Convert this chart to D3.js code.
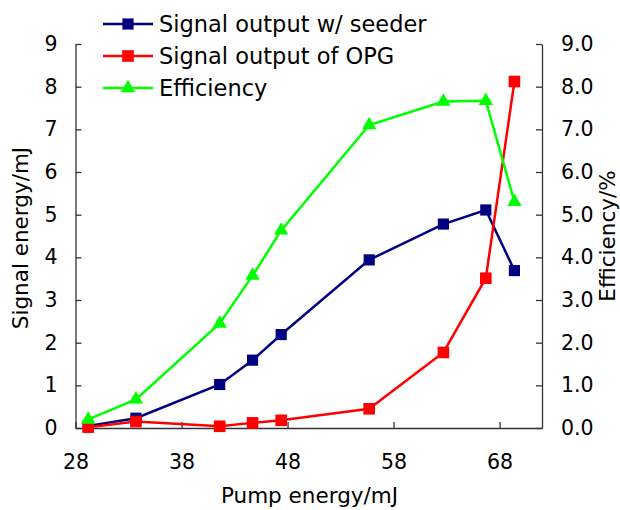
<!DOCTYPE html>
<html><head><meta charset="utf-8">
<script src="https://cdn.jsdelivr.net/npm/d3@7"></script>
<style>body{margin:0;background:#fff}svg{display:block}text{font-family:"DejaVu Sans",Verdana,sans-serif;fill:#000}</style>
</head><body>
<script>
const pump = [29.2, 33.7, 41.6, 44.7, 47.4, 55.7, 62.7, 66.7, 69.4];
const seeder = [0.05, 0.23, 1.02, 1.59, 2.19, 3.94, 4.78, 5.11, 3.69];
const opg = [0.02, 0.15, 0.04, 0.12, 0.18, 0.45, 1.77, 3.51, 8.12];
const efficiency = [0.20, 0.67, 2.45, 3.57, 4.63, 7.10, 7.65, 7.67, 5.30];
const xTicks = [28, 38, 48, 58, 68];
const yLeftTicks = [0,1,2,3,4,5,6,7,8,9];
const yRightTicks = [0,1,2,3,4,5,6,7,8,9];
const seriesNames = ["Signal output w/ seeder", "Signal output of OPG", "Efficiency"];

const W = 620, H = 510;
const L = 75.5, R = 542, T = 44, B = 428;
const svg = d3.select("body").append("svg").attr("width", W).attr("height", H);
const x = d3.scaleLinear().domain([28, 72]).range([L, R]);
const yL = d3.scaleLinear().domain([0, 9]).range([B, T]);
const yR = d3.scaleLinear().domain([0, 9]).range([B, T]);
const FS = 20.5;
const axisColor = "#333";

// axes
const gx = svg.append("g").attr("transform", `translate(0,${B})`)
  .call(d3.axisBottom(x).tickValues(xTicks).tickSizeInner(-6).tickSizeOuter(0).tickPadding(26.5));
const gl = svg.append("g").attr("transform", `translate(${L},0)`)
  .call(d3.axisLeft(yL).tickValues(yLeftTicks).tickSizeInner(-6).tickSizeOuter(0).tickPadding(18).tickFormat(d3.format("d")));
const gr = svg.append("g").attr("transform", `translate(${R},0)`)
  .call(d3.axisRight(yR).tickValues(yRightTicks).tickSizeInner(-6).tickSizeOuter(0).tickPadding(19).tickFormat(d3.format(".1f")));
[gx, gl, gr].forEach(g => {
  g.selectAll("path,line").attr("stroke", axisColor).attr("stroke-width", 1.3);
  g.selectAll("text").attr("font-size", FS).attr("font-family", '"DejaVu Sans",Verdana,sans-serif').attr("fill", "#000");
});
gx.selectAll("text").attr("dy", "0.71em");

// titles
svg.append("text").attr("x", 309.5).attr("y", 503).attr("text-anchor", "middle")
  .attr("font-size", 21.5).text("Pump energy/mJ");
svg.append("text").attr("transform", "translate(28,238) rotate(-90)").attr("text-anchor", "middle")
  .attr("font-size", 21.5).text("Signal energy/mJ");
svg.append("text").attr("transform", "translate(615,236) rotate(-90)").attr("text-anchor", "middle")
  .attr("font-size", 21.5).text("Efficiency/%");

const series = [
  {name: seriesNames[0], vals: seeder, y: yL, color: "#000080", sym: d3.symbolSquare, size: 125},
  {name: seriesNames[1], vals: opg, y: yL, color: "#ff0000", sym: d3.symbolSquare, size: 135},
  {name: seriesNames[2], vals: efficiency, y: yR, color: "#00ff00", sym: d3.symbolTriangle, size: 90},
];

series.forEach(s => {
  const line = d3.line().x((d, i) => x(pump[i])).y(d => s.y(d));
  svg.append("path").datum(s.vals).attr("d", line).attr("fill", "none")
    .attr("stroke", s.color).attr("stroke-width", 2.5);
});
series.forEach(s => {
  svg.append("g").selectAll("path").data(s.vals).join("path")
    .attr("d", d3.symbol().type(s.sym).size(s.size))
    .attr("transform", (d, i) => `translate(${x(pump[i])},${s.y(d)})`)
    .attr("fill", s.color);
});

// legend
const lg = svg.append("g");
series.forEach((s, i) => {
  const yy = 24 + i * 32;
  lg.append("line").attr("x1", 103).attr("x2", 153).attr("y1", yy).attr("y2", yy)
    .attr("stroke", s.color).attr("stroke-width", 2.5);
  lg.append("path").attr("d", d3.symbol().type(s.sym).size(s.size)).attr("transform", `translate(128,${yy})`)
    .attr("fill", s.color);
  lg.append("text").attr("x", 159).attr("y", yy).attr("dy", "0.35em").attr("font-size", 22.5).text(s.name);
});
</script>
</body></html>
